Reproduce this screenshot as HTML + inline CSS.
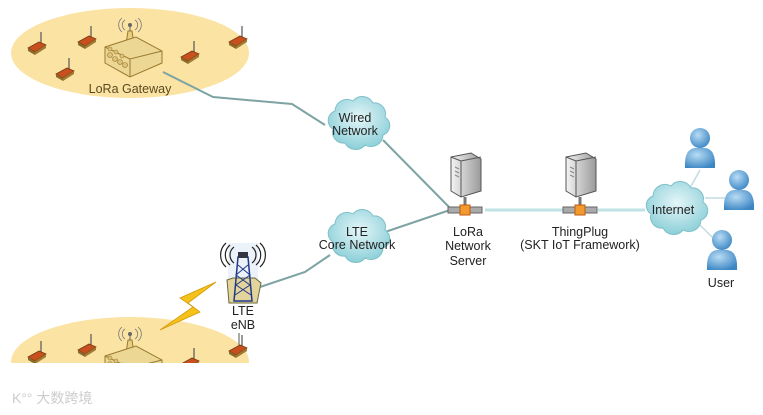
<!DOCTYPE html>
<html><head><meta charset="utf-8"><style>
html,body{margin:0;padding:0;background:#fff;width:763px;height:415px;overflow:hidden}
svg text{font-family:"Liberation Sans","DejaVu Sans",sans-serif;font-size:12.5px;fill:#222}
</style></head><body>
<svg width="763" height="415" viewBox="0 0 763 415" xmlns="http://www.w3.org/2000/svg">
<defs>
<radialGradient id="cl" cx="50%" cy="40%" r="60%"><stop offset="0" stop-color="#e4f6f8"/><stop offset="1" stop-color="#8ccfd8"/></radialGradient>
<linearGradient id="sv" x1="0" x2="1"><stop offset="0" stop-color="#f4f4f4"/><stop offset="1" stop-color="#9a9a9a"/></linearGradient>
<radialGradient id="us" cx="40%" cy="35%" r="70%"><stop offset="0" stop-color="#b8dcf4"/><stop offset="1" stop-color="#3c86c4"/></radialGradient>
<clipPath id="cb"><rect x="0" y="0" width="763" height="363"/></clipPath>
<g id="dev"><line x1="6" y1="-14" x2="6" y2="-2" stroke="#555" stroke-width="1.2"/><path d="M-7,2 L4,-4 L11,-1 L0,6 Z" fill="#c8501e" stroke="#7a3a10" stroke-width="0.8"/><path d="M-7,2 L0,6 L0,9 L-7,5 Z" fill="#8a6a2a"/><path d="M0,6 L11,-1 L11,2 L0,9Z" fill="#a07a30"/></g>
<g id="gw"><path d="M-2,-14 L2,-14 L6,12 L-6,12 Z" fill="#e8cf82" stroke="#9a7a30"/><circle cx="0" cy="-20" r="2" fill="#666"/><line x1="0" y1="-20" x2="0" y2="-14" stroke="#666"/><path d="M-5,-25 a6,6 0 0 0 0,10 M5,-25 a6,6 0 0 1 0,10 M-8,-27 a9,9 0 0 0 0,14 M8,-27 a9,9 0 0 1 0,14" stroke="#777" fill="none" stroke-width="0.8"/>
<path d="M-25,2 L6,-8 L32,6 L32,18 L0,32 L-25,18 Z" fill="#ecd795" stroke="#9a7a30"/><path d="M-25,2 L0,14 L32,6 M0,14 L0,32" stroke="#9a7a30" fill="none"/>
<g fill="#dcc27a" stroke="#9a7a30" stroke-width="0.6"><circle cx="-20" cy="10" r="2.5"/><circle cx="-15" cy="14" r="2.5"/><circle cx="-10" cy="17" r="2.5"/><circle cx="-5" cy="20" r="2.5"/><circle cx="-20" cy="4" r="2"/><circle cx="-14" cy="7" r="2"/><circle cx="-8" cy="11" r="2"/></g></g>
<g id="cloud"><path d="M-20,-14 a12,12 0 0 1 18,-10 a12,12 0 0 1 20,2 a11,11 0 0 1 12,14 a10,10 0 0 1 -2,18 a12,12 0 0 1 -18,10 a12,12 0 0 1 -20,-2 a11,11 0 0 1 -12,-14 a10,10 0 0 1 2,-18 z" fill="url(#cl)" stroke="#7fbfc8" stroke-width="1"/></g>
<g id="srv"><path d="M-14,-24 L6,-28 L16,-22 L16,10 L-4,16 L-14,10 Z" fill="url(#sv)" stroke="#555"/><path d="M-14,-24 L-4,-20 L16,-24 M-4,-20 L-4,16" stroke="#555" fill="none"/><g stroke="#888"><line x1="-10" y1="-14" x2="-6" y2="-12"/><line x1="-10" y1="-10" x2="-6" y2="-8"/><line x1="-10" y1="-6" x2="-6" y2="-4"/></g>
<line x1="0" y1="16" x2="0" y2="28" stroke="#777" stroke-width="3"/><rect x="-17" y="26" width="34" height="6" fill="#aaa" stroke="#666"/><rect x="-5" y="24" width="10" height="10" fill="#f29a2e" stroke="#c05a10"/></g>
<g id="user"><circle cx="0" cy="-10" r="10" fill="url(#us)"/><path d="M-15,20 Q-16,1 -5,0 L5,0 Q16,1 15,20 Z" fill="url(#us)"/></g>
</defs>
<ellipse cx="130" cy="53" rx="119" ry="45" fill="#fbe3a4"/>
<g clip-path="url(#cb)"><ellipse cx="130" cy="362" rx="119" ry="45" fill="#fbe3a4"/></g>
<use href="#dev" x="35" y="46"/><use href="#dev" x="85" y="40"/><use href="#dev" x="63" y="72"/><use href="#dev" x="188" y="55"/><use href="#dev" x="236" y="40"/>
<use href="#gw" x="130" y="45"/>
<text x="130" y="93" text-anchor="middle" fill="#5a4a20" style="fill:#5a4a20">LoRa Gateway</text>
<g clip-path="url(#cb)"><use href="#dev" x="35" y="355"/><use href="#dev" x="85" y="348"/><use href="#dev" x="188" y="362"/><use href="#dev" x="236" y="349"/><use href="#gw" x="130" y="354"/></g>
<g stroke="#7ea3a3" stroke-width="2" fill="none"><polyline points="163,72 213,97 292,104 325,125"/><line x1="383" y1="140" x2="450" y2="208"/><polyline points="260,287 305,272 330,255"/><line x1="385" y1="232" x2="450" y2="210"/></g>
<g stroke="#bfe2e6" stroke-width="3"><line x1="485" y1="210" x2="563" y2="210"/><line x1="598" y1="210" x2="645" y2="210"/></g>
<g stroke="#c2dce2" stroke-width="1.5"><line x1="690" y1="188" x2="700" y2="170"/><line x1="705" y1="198" x2="725" y2="198"/><line x1="700" y1="225" x2="715" y2="240"/></g>
<use href="#cloud" x="355" y="125"/><text x="355" y="122" text-anchor="middle">Wired</text><text x="355" y="135" text-anchor="middle">Network</text>
<use href="#cloud" x="355" y="238"/><text x="357" y="236" text-anchor="middle">LTE</text><text x="357" y="249" text-anchor="middle">Core Network</text>
<use href="#cloud" x="673" y="210"/><text x="673" y="214" text-anchor="middle">Internet</text>
<use href="#srv" x="465" y="181"/><text x="468" y="236" text-anchor="middle">LoRa</text><text x="468" y="250" text-anchor="middle">Network</text><text x="468" y="265" text-anchor="middle">Server</text>
<use href="#srv" x="580" y="181"/><text x="580" y="236" text-anchor="middle">ThingPlug</text><text x="580" y="249" text-anchor="middle">(SKT IoT Framework)</text>
<use href="#user" x="700" y="148"/><use href="#user" x="739" y="190"/><use href="#user" x="722" y="250"/><text x="721" y="287" text-anchor="middle">User</text>
<g transform="translate(243,275)"><rect x="-15" y="-32" width="30" height="60" fill="#e4ecf8" opacity="0.7"/><path d="M-16,5 L-10,3 L12,3 L18,8 L14,28 L-14,28 Z" fill="#e2d49a" stroke="#6a6a3a"/><path d="M-5,-18 L5,-18 L9,26 L-9,26 Z" fill="none" stroke="#223a8a" stroke-width="1.5"/><path d="M-5,-10 L7,0 L-7,10 L8,20 M5,-10 L-7,0 L7,10 L-8,20" stroke="#223a8a" fill="none"/><rect x="-5" y="-23" width="10" height="6" fill="#334"/><path d="M-9,-28 a10,10 0 0 0 0,16 M9,-28 a10,10 0 0 1 0,16 M-13,-30 a13,13 0 0 0 0,20 M13,-30 a13,13 0 0 1 0,20 M-17,-32 a16,16 0 0 0 0,24 M17,-32 a16,16 0 0 1 0,24" stroke="#222" fill="none" stroke-width="1.2"/></g>
<text x="243" y="315" text-anchor="middle">LTE</text><text x="243" y="329" text-anchor="middle">eNB</text>
<line x1="239" y1="333" x2="239" y2="345" stroke="#555"/>
<path d="M216,282 L180,298 L193,307 L160,330 L200,312 L188,303 Z" fill="#f5c21a" stroke="#d69a0a" stroke-width="0.8"/>
<text x="12" y="403" style="font-family:'Liberation Sans','Noto Sans CJK SC',sans-serif;font-size:14px;fill:#ccc">K°° 大数跨境</text>
</svg>
</body></html>
